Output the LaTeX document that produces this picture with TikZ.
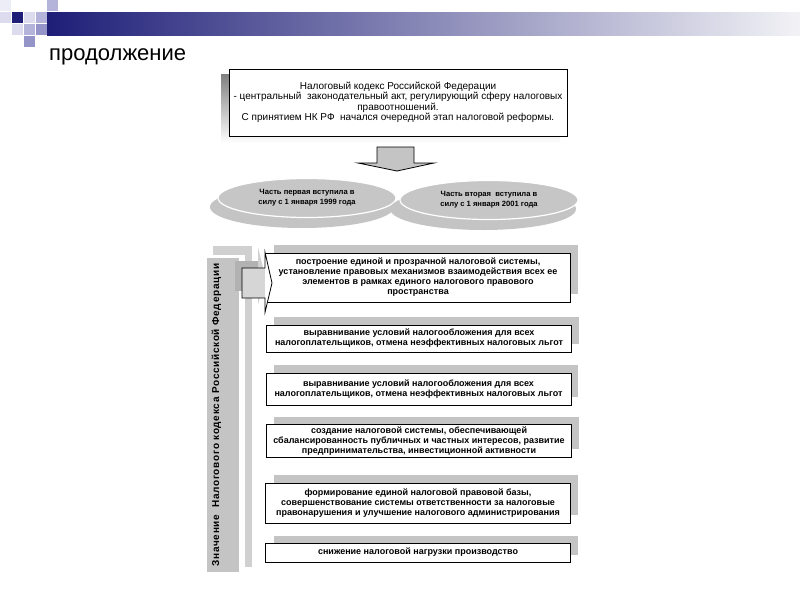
\documentclass[tikz,border=0pt]{standalone}
\usepackage{fontspec}
\setmainfont{Liberation Sans}
\newfontfamily\spacedfont[LetterSpace=7]{Liberation Sans}
\usetikzlibrary{shapes.geometric}
\definecolor{navy}{HTML}{1E1E78}
\definecolor{barend}{HTML}{F2F2F6}
\definecolor{sqlight}{HTML}{DCDCEE}
\definecolor{sqmid}{HTML}{B4B4DA}
\definecolor{sqdark}{HTML}{9494C8}
\definecolor{shade}{HTML}{C4C4C4}
\definecolor{shadelt}{HTML}{D0D0D0}
\definecolor{ellfill}{HTML}{C6C6C6}
\begin{document}
\begin{tikzpicture}[x=1pt,y=-1pt,
  txtbox/.style={draw=black, fill=white, line width=0.8pt, inner sep=0pt, align=center,
    minimum width=305pt, font=\fontsize{9}{10}\selectfont\bfseries},
  boxshadow/.style={fill=shade},
  ellnode/.style={ellipse, fill=ellfill, draw=white, line width=1.2pt, inner sep=0pt,
    minimum width=178pt, minimum height=39pt, align=center,
    font=\fontsize{7.6}{10}\selectfont\bfseries},
  ellshadow/.style={fill=shade},
  blockarrow/.style={draw=black, fill=shade, line width=0.8pt, line join=miter}
]
\useasboundingbox (0,0) rectangle (800,600);

% header decoration
\shade[left color=navy, right color=barend] (47,12) rectangle (800,35);
\fill[sqlight!50!white] (0,0) rectangle (11,11);
\fill[sqmid] (47,0) rectangle (58,11);
\fill[sqlight] (0,12) rectangle (11,23);
\fill[navy] (12,12) rectangle (23,23);
\fill[sqlight] (24,12) rectangle (35,23);
\fill[sqmid] (36,12) rectangle (47,23);
\fill[sqlight] (12,24) rectangle (23,35);
\fill[sqmid] (24,24) rectangle (35,35);
\fill[sqdark] (36,24) rectangle (47,35);
\fill[sqdark] (24,36) rectangle (35,47);

% title
\node[anchor=base west, inner sep=0pt, font=\fontsize{22}{24}\selectfont] (title) at (49,60) {продолжение};

% top box
\fill[shade] (221,74) rectangle (560,143);
\node[draw=black, fill=white, line width=0.8pt, inner sep=0pt, align=center,
  minimum width=338pt, minimum height=67pt, font=\fontsize{10}{10.4}\selectfont] (top) at (398,102.5)
  {Налоговый кодекс Российской Федерации\\
   - центральный~~законодательный акт, регулирующий сферу налоговых\\
   правоотношений.\\
   С принятием НК РФ~~начался очередной этап налоговой реформы.};

% down block arrow
\coordinate (dtip) at (397,171);
\draw[blockarrow] (377,147) -- (414,147) -- (414,163) -- (434,163) -- (dtip)
  -- (358,163) -- (377,163) -- cycle;

% ellipses
\fill[ellshadow] (302,207) ellipse [x radius=92, y radius=21];
\node[ellnode] (e1) at (307,198) {Часть первая вступила в\\силу с 1 января 1999 года};
\fill[ellshadow] (483,209) ellipse [x radius=93, y radius=21];
\node[ellnode] (e2) at (489,200) {Часть вторая~~вступила в\\силу с 1 января 2001 года};

% left vertical bar
\fill[shadelt] (213,246) rectangle (252,567);
\fill[white] (205,255) rectangle (245,574);
\node[fill=shade, minimum width=32pt, minimum height=314pt, inner sep=0pt] (bar) at (223,415) {};
\node[rotate=90, inner sep=0pt, font=\fontsize{10}{12}\spacedfont\bfseries] (vt) at (216.5,415)
  {Значение~~Налогового кодекса Российской Федерации};

% box shadows
\fill[boxshadow] (274,245) rectangle (578,294);
\fill[boxshadow] (274,317) rectangle (579,344);
\fill[boxshadow] (274,365) rectangle (578,397);
\fill[boxshadow] (274,417) rectangle (579,449);
\fill[boxshadow] (274,475) rectangle (578,515);
\fill[boxshadow] (274,536) rectangle (578,555);

% boxes
\node[txtbox, minimum height=49pt] (b1) at (418,277.5)
  {построение единой и прозрачной налоговой системы,\\
   установление правовых механизмов взаимодействия всех ее\\
   элементов в рамках единого налогового правового\\
   пространства};
\node[txtbox, minimum height=27pt] (b2) at (419,338.5)
  {выравнивание условий налогообложения для всех\\
   налогоплательщиков, отмена неэффективных налоговых льгот};
\node[txtbox, minimum height=32pt] (b3) at (418.5,389)
  {выравнивание условий налогообложения для всех\\
   налогоплательщиков, отмена неэффективных налоговых льгот};
\node[txtbox, minimum height=33pt] (b4) at (419,441)
  {создание налоговой системы, обеспечивающей\\
   сбалансированность публичных и частных интересов, развитие\\
   предпринимательства, инвестиционной активности};
\node[txtbox, minimum height=40pt] (b5) at (418,503)
  {формирование единой налоговой правовой базы,\\
   совершенствование системы ответственности за налоговые\\
   правонарушения и улучшение налогового администрирования};
\node[txtbox, minimum height=19pt] (b6) at (418,552.5)
  {снижение налоговой нагрузки производство};

% right block arrow from bar to first box
\fill[black!30] (235,261) rectangle (258,291);
\fill[black!18] (258,247) -- (265,276) -- (258,305) -- cycle;
\coordinate (rtip) at (272,283);
\fill[white] (b1.north west) -- (rtip) -- (b1.north west |- 0,312) -- cycle;
\fill[shade!70!white] (242,268) rectangle (265,298);
\draw[black, line width=0.8pt, line join=miter] (242,268) -- (265,268) -- (b1.north west)
  -- (rtip) -- (b1.north west |- 0,312) -- (265,298) -- (242,298) -- cycle;
\end{tikzpicture}
\end{document}
